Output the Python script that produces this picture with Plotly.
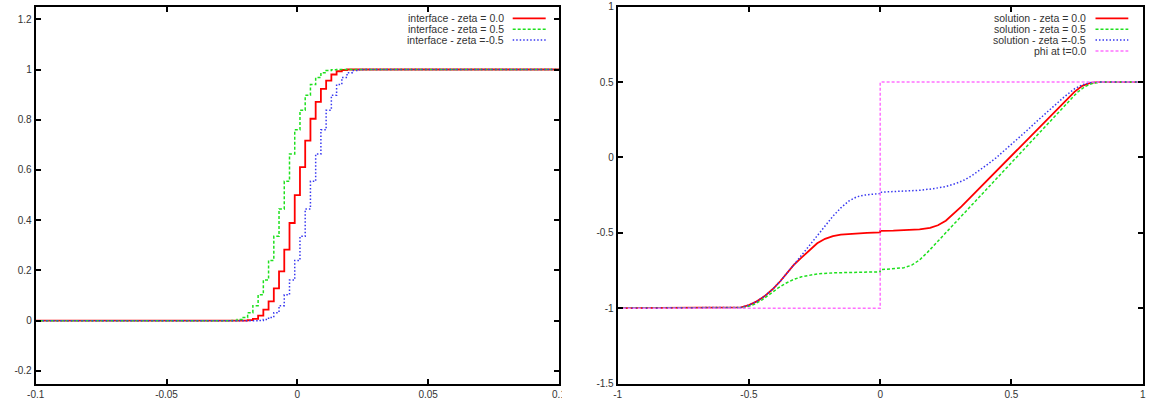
import plotly.graph_objects as go

W, H = 1158, 409

# ---------------- left panel: interface (cell values on grid) ----------------
red_x = [-0.1, -0.020, -0.018, -0.016, -0.014, -0.012, -0.010, -0.008, -0.006, -0.004, -0.002,
         0.000, 0.002, 0.004, 0.006, 0.008, 0.010, 0.012, 0.014, 0.016, 0.018, 0.020, 0.1]
red_y = [0.0, 0.0, 0.002, 0.007, 0.02, 0.044, 0.077, 0.129, 0.196, 0.283, 0.389,
         0.50, 0.611, 0.717, 0.804, 0.871, 0.923, 0.956, 0.98, 0.993, 0.998, 1.0, 1.0]

green_x = [-0.1, -0.026, -0.024, -0.022, -0.020, -0.018, -0.016, -0.014, -0.012, -0.010, -0.008,
           -0.006, -0.004, -0.002, 0.000, 0.002, 0.004, 0.006, 0.008, 0.010, 0.012, 0.014, 0.016, 0.1]
green_y = [0.0, 0.0, 0.001, 0.0045, 0.013, 0.032, 0.06, 0.103, 0.162, 0.24, 0.336,
           0.445, 0.555, 0.664, 0.76, 0.838, 0.897, 0.94, 0.968, 0.987, 0.996, 0.999, 1.0, 1.0]

blue_x = [-0.1, -0.016, -0.014, -0.012, -0.010, -0.008, -0.006, -0.004, -0.002, 0.000, 0.002,
          0.004, 0.006, 0.008, 0.010, 0.012, 0.014, 0.016, 0.018, 0.020, 0.022, 0.024, 0.026, 0.1]
blue_y = [0.0, 0.0, 0.001, 0.0045, 0.013, 0.032, 0.06, 0.103, 0.162, 0.24, 0.336,
          0.445, 0.555, 0.664, 0.76, 0.838, 0.897, 0.94, 0.968, 0.987, 0.996, 0.999, 1.0, 1.0]

left_names = ["interface - zeta = 0.0", "interface - zeta = 0.5", "interface - zeta =-0.5"]

# ---------------- right panel: solution ----------------
sol_red_x = [-1.0, -0.56, -0.53, -0.50, -0.47, -0.44, -0.41, -0.38, -0.35, -0.33, -0.30, -0.27,
             -0.24, -0.21, -0.18, -0.15, -0.10, -0.05, 0.0, 0.0, 0.05, 0.10, 0.15, 0.19, 0.22,
             0.25, 0.28, 0.31, 0.34, 0.40, 0.50, 0.60, 0.70, 0.74, 0.77, 0.80, 0.83, 1.0]
sol_red_y = [-1.0, -1.0, -0.995, -0.98, -0.955, -0.92, -0.875, -0.82, -0.76, -0.715, -0.665, -0.615,
             -0.57, -0.54, -0.522, -0.512, -0.505, -0.501, -0.498, -0.488, -0.486, -0.483, -0.478,
             -0.468, -0.45, -0.42, -0.375, -0.325, -0.272, -0.165, 0.012, 0.19, 0.365, 0.435,
             0.475, 0.494, 0.5, 0.5]

sol_green_x = [-1.0, -0.56, -0.53, -0.51, -0.48, -0.45, -0.42, -0.39, -0.36, -0.33, -0.30, -0.27,
               -0.24, -0.18, -0.10, 0.0, 0.0, 0.05, 0.09, 0.12, 0.15, 0.18, 0.21, 0.25, 0.30,
               0.35, 0.40, 0.50, 0.60, 0.70, 0.75, 0.78, 0.81, 0.84, 1.0]
sol_green_y = [-1.0, -1.0, -0.998, -0.993, -0.975, -0.945, -0.905, -0.868, -0.835, -0.81, -0.792,
               -0.78, -0.773, -0.766, -0.762, -0.759, -0.745, -0.74, -0.732, -0.715, -0.68, -0.63,
               -0.575, -0.5, -0.407, -0.314, -0.221, -0.035, 0.151, 0.337, 0.43, 0.47, 0.492, 0.5, 0.5]

sol_blue_x = [-1.0, -0.56, -0.53, -0.50, -0.47, -0.44, -0.41, -0.38, -0.35, -0.33, -0.30, -0.27,
              -0.24, -0.21, -0.18, -0.15, -0.12, -0.09, -0.06, -0.03, 0.0, 0.0, 0.08, 0.15, 0.20,
              0.25, 0.29, 0.32, 0.35, 0.38, 0.41, 0.44, 0.48, 0.52, 0.56, 0.60, 0.65, 0.70, 0.74,
              0.77, 0.80, 0.83, 1.0]
sol_blue_y = [-1.0, -1.0, -0.995, -0.98, -0.955, -0.92, -0.875, -0.82, -0.76, -0.715, -0.65, -0.585,
              -0.52, -0.455, -0.39, -0.335, -0.29, -0.262, -0.25, -0.244, -0.24, -0.231, -0.226,
              -0.218, -0.208, -0.193, -0.172, -0.15, -0.12, -0.085, -0.045, -0.005, 0.055, 0.115,
              0.18, 0.245, 0.325, 0.40, 0.455, 0.482, 0.496, 0.5, 0.5]

phi_x = [-1.0, 0.0, 0.0, 1.0]
phi_y = [-1.0, -1.0, 0.5, 0.5]

right_names = ["solution - zeta = 0.0", "solution - zeta = 0.5", "solution - zeta =-0.5", "phi at t=0.0"]

left_xticks = [-0.1, -0.05, 0, 0.05, 0.1]
left_xtext = ["-0.1", "-0.05", "0", "0.05", "0.1"]
left_yticks = [-0.2, 0, 0.2, 0.4, 0.6, 0.8, 1, 1.2]
left_ytext = ["-0.2", "0", "0.2", "0.4", "0.6", "0.8", "1", "1.2"]
right_xticks = [-1, -0.5, 0, 0.5, 1]
right_xtext = ["-1", "-0.5", "0", "0.5", "1"]
right_yticks = [-1.5, -1, -0.5, 0, 0.5, 1]
right_ytext = ["-1.5", "-1", "-0.5", "0", "0.5", "1"]

# ---------------- styles ----------------
RED = "#ff0000"
GREEN = "#1ee01e"
BLUE = "#3838f0"
MAG = "#ff70ff"
styles = [
    dict(color=RED, width=1.8, dash="solid"),
    dict(color=GREEN, width=1.5, dash="3px,2px"),
    dict(color=BLUE, width=1.5, dash="1.5px,2px"),
    dict(color=MAG, width=1.5, dash="3px,2px"),
]

fig = go.Figure()
for (xs, ys), st, nm in zip([(red_x, red_y), (green_x, green_y), (blue_x, blue_y)], styles, left_names):
    fig.add_trace(go.Scatter(x=xs, y=ys, mode="lines", line=dict(shape="hvh", **st),
                             name=nm, xaxis="x", yaxis="y", showlegend=False))
for (xs, ys), st, nm in zip([(sol_red_x, sol_red_y), (sol_green_x, sol_green_y),
                             (sol_blue_x, sol_blue_y), (phi_x, phi_y)], styles, right_names):
    fig.add_trace(go.Scatter(x=xs, y=ys, mode="lines", line=st,
                             name=nm, xaxis="x2", yaxis="y2", showlegend=False))

FONT = dict(family="Liberation Sans, Arial, sans-serif", size=10, color="#333333")

def px(x):
    return x / W

def py(y):
    return 1 - y / H

axis_common = dict(showline=True, linewidth=2, linecolor="black", mirror="allticks",
                   ticks="inside", ticklen=5, tickwidth=1.5, tickcolor="black",
                   showgrid=False, zeroline=False, tickfont=FONT, fixedrange=True,
                   automargin=False)

ybot, ytop = py(383.5), py(6.7)
fig.update_layout(
    template="none",
    width=W, height=H, margin=dict(l=0, r=0, t=0, b=0, pad=0), autosize=False,
    paper_bgcolor="white", plot_bgcolor="white", showlegend=False,
    xaxis=dict(domain=[px(35.7), px(559)], range=[-0.1, 0.1], tickvals=left_xticks,
               ticktext=left_xtext, anchor="y", **axis_common),
    yaxis=dict(domain=[ybot, ytop], range=[-0.25, 1.25], tickvals=left_yticks,
               ticktext=left_ytext, anchor="x", **axis_common),
    xaxis2=dict(domain=[px(617.7), px(1142.7)], range=[-1, 1], tickvals=right_xticks,
                ticktext=right_xtext, anchor="y2", **axis_common),
    yaxis2=dict(domain=[ybot, ytop], range=[-1.5, 1], tickvals=right_yticks,
                ticktext=right_ytext, anchor="x2", **axis_common),
)

# manual key (gnuplot style: text right-aligned, sample on the right)
annotations = []
shapes = []
LEG_FONT = dict(family="Liberation Sans, Arial, sans-serif", size=10.5, color="#333333")
for i, nm in enumerate(left_names):
    yy = 18.3 + i * 10.9
    annotations.append(dict(x=px(506), y=py(yy), xref="paper", yref="paper", text=nm,
                            showarrow=False, xanchor="right", yanchor="middle", font=LEG_FONT))
    st = styles[i]
    shapes.append(dict(type="line", xref="paper", yref="paper", x0=px(512.7), x1=px(545.7),
                       y0=py(yy), y1=py(yy), line=dict(color=st["color"], width=st["width"], dash=st["dash"])))
for i, nm in enumerate(right_names):
    yy = 18.3 + i * 10.9
    annotations.append(dict(x=px(1088.3), y=py(yy), xref="paper", yref="paper", text=nm,
                            showarrow=False, xanchor="right", yanchor="middle", font=LEG_FONT))
    st = styles[i]
    shapes.append(dict(type="line", xref="paper", yref="paper", x0=px(1095.5), x1=px(1128.3),
                       y0=py(yy), y1=py(yy), line=dict(color=st["color"], width=st["width"], dash=st["dash"])))

# the left chart's last x label is clipped by the right chart in the original
shapes.append(dict(type="rect", xref="paper", yref="paper", x0=px(562), x1=px(592),
                   y0=py(406), y1=py(387), fillcolor="white", line=dict(width=0), layer="above"))

fig.update_layout(annotations=annotations, shapes=shapes)
fig.write_html("out.html")
